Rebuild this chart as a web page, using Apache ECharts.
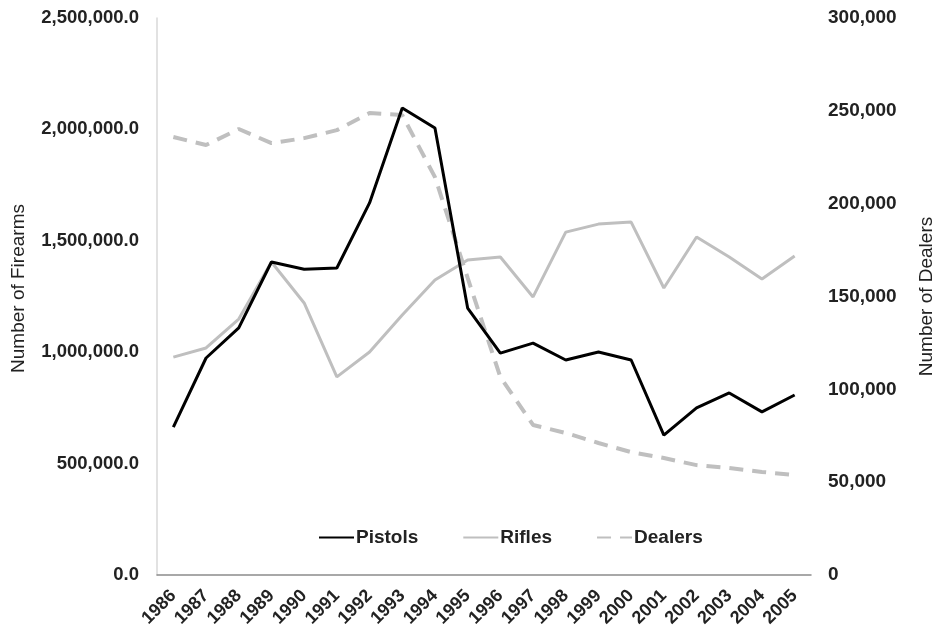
<!DOCTYPE html>
<html>
<head>
    <meta charset="UTF-8">
    <title>Firearms and Dealers</title>
    <style>
        html, body { margin: 0; padding: 0; background: #fff; }
        #chart { width: 937px; height: 639px; }
    </style>
    <script src="https://cdn.jsdelivr.net/npm/echarts@6/dist/echarts.min.js"></script>
</head>
<body>
<div id="chart"></div>
<script>
    var years = ['1986', '1987', '1988', '1989', '1990', '1991', '1992', '1993', '1994', '1995',
        '1996', '1997', '1998', '1999', '2000', '2001', '2002', '2003', '2004', '2005'];
    var pistols = [664000, 974000, 1109000, 1405000, 1372000, 1378000, 1670000, 2096000, 2006000, 1198000,
        996000, 1041000, 965000, 1001000, 965000, 628000, 750000, 817000, 732000, 808000];
    var rifles = [978000, 1019000, 1149000, 1405000, 1221000, 889000, 1001000, 1167000, 1324000, 1414000,
        1427000, 1248000, 1539000, 1575000, 1584000, 1288000, 1517000, 1427000, 1329000, 1432000];
    var dealers = [235900, 231600, 240200, 232600, 235300, 239600, 248800, 247700, 214300, 160000,
        106600, 80800, 76500, 71100, 66200, 63000, 59200, 57600, 55500, 53900];

    var font = 'Arial, "Liberation Sans", sans-serif';
    var txt = '#222';

    function withCommas(v) {
        return String(Math.round(v)).replace(/\B(?=(\d{3})+(?!\d))/g, ',');
    }

    var chart = echarts.init(document.getElementById('chart'), null, {renderer: 'canvas'});
    chart.setOption({
        animation: false,
        textStyle: {fontFamily: font},
        grid: {left: 157, right: 126, top: 18, bottom: 64, containLabel: false, outerBoundsMode: 'none'},
        legend: {
            left: 313,
            top: 523,
            itemWidth: 35,
            itemHeight: 18,
            itemGap: 44,
            itemStyle: {opacity: 0},
            textStyle: {fontFamily: font, fontSize: 19, fontWeight: 'bold', color: txt, padding: [0, 0, 0, -3]},
            data: ['Pistols', 'Rifles', 'Dealers']
        },
        xAxis: {
            type: 'category',
            data: years,
            boundaryGap: true,
            axisLine: {lineStyle: {color: '#8c8c8c', width: 1.5}},
            axisTick: {show: false},
            axisLabel: {
                rotate: 45, margin: 18, interval: 0,
                fontFamily: font, fontSize: 18, fontWeight: 'bold', color: txt
            }
        },
        yAxis: [{
            type: 'value',
            min: 0, max: 2500000, interval: 500000,
            name: 'Number of Firearms',
            nameLocation: 'middle',
            nameGap: 129,
            nameTextStyle: {fontFamily: font, fontSize: 19, color: txt, padding: [0, 0, 0, 16]},
            axisLine: {show: true, lineStyle: {color: '#d9d9d9', width: 1.5}},
            axisTick: {show: false},
            splitLine: {show: false},
            axisLabel: {
                margin: 18, fontFamily: font, fontSize: 18.5, fontWeight: 'bold', color: txt,
                formatter: function (v) { return withCommas(v) + '.0'; }
            }
        }, {
            type: 'value',
            min: 0, max: 300000, interval: 50000,
            name: 'Number of Dealers',
            nameLocation: 'middle',
            nameGap: 106,
            nameTextStyle: {fontFamily: font, fontSize: 19, color: txt},
            axisLine: {show: false},
            axisTick: {show: false},
            splitLine: {show: false},
            axisLabel: {
                margin: 17, fontFamily: font, fontSize: 19, fontWeight: 'bold', color: txt,
                formatter: function (v) { return withCommas(v); }
            }
        }],
        series: [{
            name: 'Pistols',
            type: 'line',
            data: pistols,
            yAxisIndex: 0,
            symbol: 'none',
            z: 4,
            itemStyle: {color: '#000'},
            lineStyle: {color: '#000', width: 3}
        }, {
            name: 'Rifles',
            type: 'line',
            data: rifles,
            yAxisIndex: 0,
            symbol: 'none',
            z: 3,
            itemStyle: {color: '#bfbfbf'},
            lineStyle: {color: '#bfbfbf', width: 3}
        }, {
            name: 'Dealers',
            type: 'line',
            data: dealers,
            yAxisIndex: 1,
            symbol: 'none',
            z: 2,
            itemStyle: {color: '#bfbfbf'},
            lineStyle: {color: '#bfbfbf', width: 4, type: [14, 9]}
        }]
    });
</script>
</body>
</html>
